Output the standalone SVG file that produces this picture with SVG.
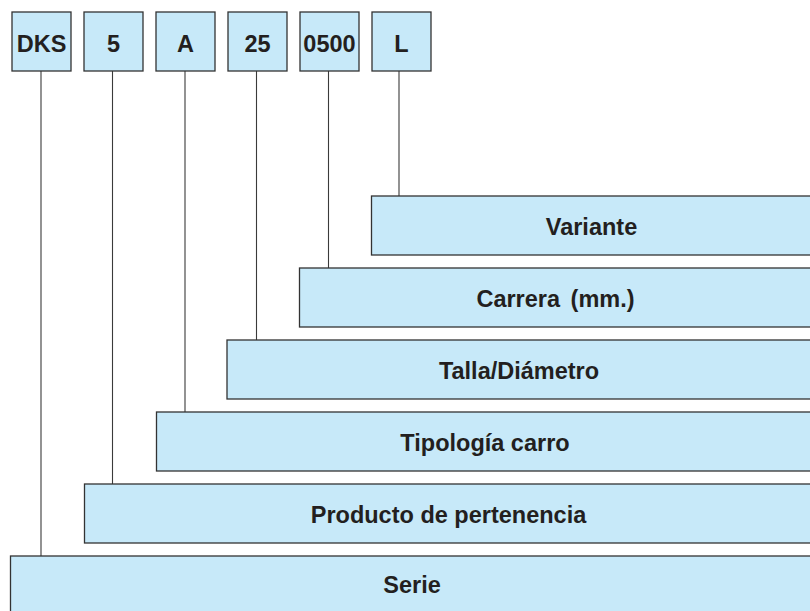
<svg xmlns="http://www.w3.org/2000/svg" width="810" height="611" viewBox="0 0 810 611">
<style>
.box{fill:#c7e9f9;stroke:#333;stroke-width:1.3}
.t{font-family:"Liberation Sans",Arial,sans-serif;font-weight:bold;font-size:23.5px;fill:#231f20;text-anchor:middle}
.c{stroke:#3a3a3a;stroke-width:1.1;fill:none}
</style>
<rect width="810" height="611" fill="#fff"/>
<g id="connectors">
<line class="c" x1="41" y1="71" x2="41" y2="556"/>
<line class="c" x1="112.5" y1="71" x2="112.5" y2="484"/>
<line class="c" x1="185" y1="71" x2="185" y2="412"/>
<line class="c" x1="256.5" y1="71" x2="256.5" y2="340"/>
<line class="c" x1="328.5" y1="71" x2="328.5" y2="268"/>
<line class="c" x1="399" y1="71" x2="399" y2="196"/>
</g>
<g id="code-DKS"><rect class="box" x="12" y="12" width="59" height="59"/><text class="t" x="41.5" y="51.5">DKS</text></g>
<g id="code-5"><rect class="box" x="84" y="12" width="59" height="59"/><text class="t" x="113.5" y="51.5">5</text></g>
<g id="code-A"><rect class="box" x="156" y="12" width="59" height="59"/><text class="t" x="185.5" y="51.5">A</text></g>
<g id="code-25"><rect class="box" x="228" y="12" width="59" height="59"/><text class="t" x="257.5" y="51.5">25</text></g>
<g id="code-0500"><rect class="box" x="300" y="12" width="59" height="59"/><text class="t" x="329.5" y="51.5">0500</text></g>
<g id="code-L"><rect class="box" x="372" y="12" width="59" height="59"/><text class="t" x="401.5" y="51.5">L</text></g>
<g id="bar-variante"><rect class="box" x="371.5" y="196" width="450" height="59"/><text class="t" x="591.5" y="234.5">Variante</text></g>
<g id="bar-carrera"><rect class="box" x="299.5" y="268" width="520" height="59"/><text class="t" x="555.5" y="306.5" word-spacing="4">Carrera (mm.)</text></g>
<g id="bar-talla"><rect class="box" x="227" y="340" width="600" height="59"/><text class="t" x="519" y="378.5">Talla/Diámetro</text></g>
<g id="bar-tipologia"><rect class="box" x="156.5" y="412" width="660" height="59"/><text class="t" x="485" y="450.5">Tipología carro</text></g>
<g id="bar-producto"><rect class="box" x="84.5" y="484" width="730" height="59"/><text class="t" x="448.5" y="523">Producto de pertenencia</text></g>
<g id="bar-serie"><rect class="box" x="10.5" y="556" width="810" height="70"/><text class="t" x="412" y="592.5">Serie</text></g>
</svg>
